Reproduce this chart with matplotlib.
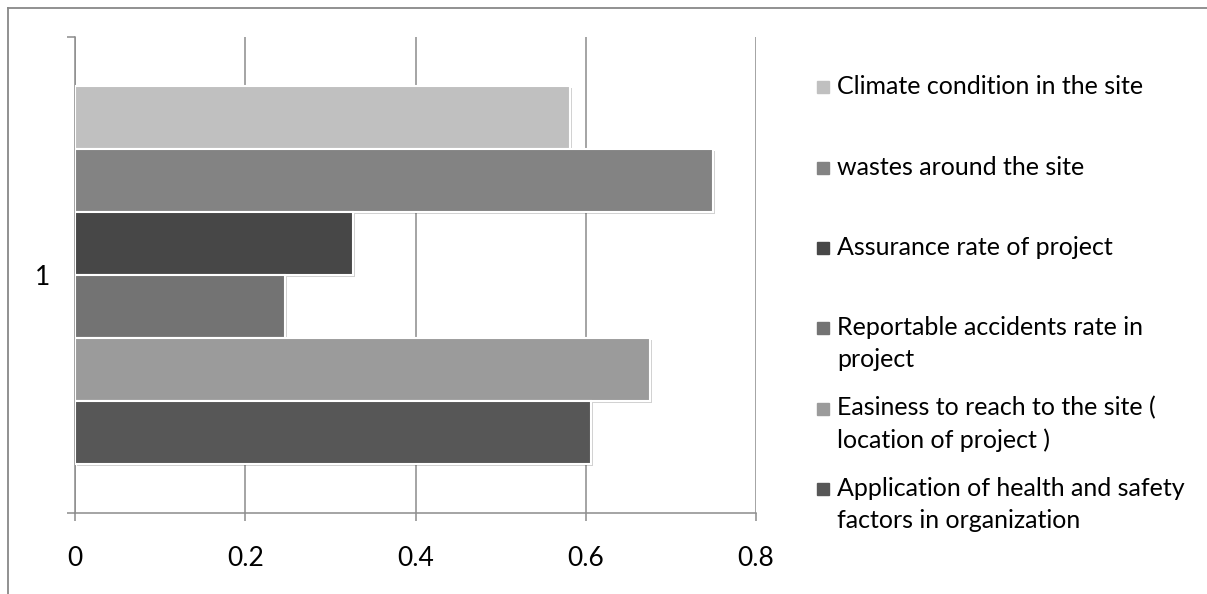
from matplotlib import pyplot as plt
from matplotlib import patheffects as pe
from matplotlib.lines import Line2D
from matplotlib.patches import Rectangle

# Data (top bar first)
#---------------------------------------------------------------------------
factors = ['Climate condition in the site',
           'wastes around the site',
           'Assurance rate of project',
           'Reportable accidents rate in project',
           'Easiness to reach to the site ( location of project )',
           'Application of health and safety factors in organization']
legend_lines = [['Climate condition in the site'],
                ['wastes around the site'],
                ['Assurance rate of project'],
                ['Reportable accidents rate in', 'project'],
                ['Easiness to reach to the site (', 'location of project )'],
                ['Application of health and safety', 'factors in organization']]
values = [0.582, 0.750, 0.327, 0.246, 0.676, 0.606]
colors = ['#c0c0c0', '#838383', '#474747', '#737373', '#9b9b9b', '#575757']
category = ['1']
xticks = [0, 0.2, 0.4, 0.6, 0.8]
#---------------------------------------------------------------------------

plt.rcParams['font.family'] = ['Lato', 'DejaVu Sans']
W, H = 1207, 594
fs = 19
legend_fs = 18
grey = '#8c8c8c'

fig = plt.figure(figsize=(W / 100, H / 100), dpi=100)
ax = fig.add_axes([75.3 / W, (H - 513.3) / H, (755.7 - 75.3) / W, (513.3 - 37.3) / H])

n = len(values)
pos = [n - 1 - i for i in range(n)]
shadow = [pe.SimplePatchShadow(offset=(1.5, -1.5), shadow_rgbFace='black', alpha=0.18), pe.Normal()]
ax.barh(pos, values, height=1.0, color=colors, edgecolor='white', linewidth=1.5,
        zorder=3, path_effects=shadow)

ax.set_xlim(0, 0.8)
ax.set_ylim(-1.277, n - 1 + 1.277)
ax.set_xticks(xticks)
ax.set_xticklabels([('%g' % t) for t in xticks])
ax.set_yticks([(n - 1) / 2])
ax.set_yticklabels(category)
ax.set_yticks([-1.277, n - 1 + 1.277], minor=True)

ax.set_axisbelow(True)
ax.xaxis.grid(True, color=grey, linewidth=1.1)
for s in ['top', 'right']:
    ax.spines[s].set_visible(False)
for s in ['left', 'bottom']:
    ax.spines[s].set_color(grey)
    ax.spines[s].set_linewidth(1.1)

ax.tick_params(axis='x', which='major', direction='out', length=5.5, width=1.1,
               color=grey, labelsize=fs, pad=18)
ax.tick_params(axis='y', which='major', length=0, labelsize=fs, pad=18)
ax.tick_params(axis='y', which='minor', direction='out', length=6, width=1.1, color=grey)

# outer chart border (top and left only visible)
fig.add_artist(Line2D([8.3 / W, 8.3 / W], [0, 1 - 8.3 / H], transform=fig.transFigure,
                      color='#888888', linewidth=1.3))
fig.add_artist(Line2D([8.3 / W, 1], [1 - 8.3 / H, 1 - 8.3 / H], transform=fig.transFigure,
                      color='#888888', linewidth=1.3))

# legend
for i, lines in enumerate(legend_lines):
    base = 94.3 + 80.3 * i
    fig.add_artist(Rectangle((817 / W, (H - base + 1) / H), 12 / W, 12 / H,
                             transform=fig.transFigure, color=colors[i]))
    for j, line in enumerate(lines):
        fig.text(837 / W, (H - base - 32 * j) / H, line, fontsize=legend_fs, va='baseline')

plt.savefig('out.png', dpi=100)
